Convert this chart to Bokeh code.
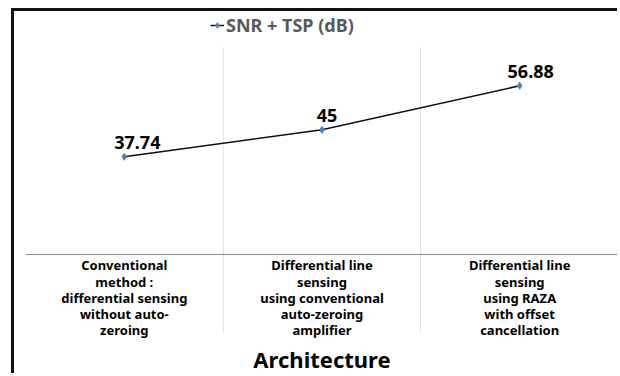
import sys
from bokeh.plotting import figure
from bokeh.models import (ColumnDataSource, Range1d, FixedTicker, Grid, Span,
                          Legend, LegendItem)
from bokeh.core.properties import value
from bokeh.embed import file_html
from bokeh.resources import INLINE

# Architectures compared (category labels, wrapped as in the slide)
categories = [
    "Conventional\nmethod :\ndifferential sensing\nwithout auto-\nzeroing",
    "Differential line\nsensing\nusing conventional\nauto-zeroing\namplifier",
    "Differential line\nsensing\nusing RAZA\nwith offset\ncancellation",
]
# SNR + TSP in dB for each architecture
snr_tsp = [37.74, 45, 56.88]
value_labels = ["37.74", "45", "56.88"]
series_name = "SNR + TSP (dB)"
axis_title = "Architecture"

# horizontal nudge (px) of each value label
label_dx = [13, 5, 11]

FONT = "Noto Sans"
baseline = 11.4          # value where the category axis line sits
plot_top, plot_bottom = 67.2, -9.9   # extent of the category separators

src = ColumnDataSource(dict(cat=categories, v=snr_tsp, lab=value_labels, dx=label_dx))

p = figure(
    x_range=categories, y_range=Range1d(-21.5, 76.9),
    width=606, height=365,
    x_axis_location=None, y_axis_location=None,
    output_backend="svg", toolbar_location=None,
    min_border_left=11, min_border_right=2,
    min_border_top=0, min_border_bottom=0,
    background_fill_color="white", border_fill_color="white",
)
p.outline_line_color = None
p.styles = {
    "margin-left": "11px", "margin-top": "8px",
    "border-left": "3px solid #111111", "border-top": "3px solid #111111",
}
for g in p.grid:
    g.visible = False

# category separators, running down through the label area
sep = Grid(dimension=0, ticker=FixedTicker(ticks=[0, 1, 2, 3]),
           grid_line_color="#e4e4e4", grid_line_width=1)
if "cross_bounds" in Grid.properties():
    sep.cross_bounds = (plot_bottom, plot_top)
else:
    print("Grid has no cross_bounds", file=sys.stderr)
p.add_layout(sep)

# category axis line
p.add_layout(Span(location=baseline, dimension="width",
                  line_color="#8a8a8a", line_width=1))

r_line = p.line("cat", "v", source=src, line_color="#111111", line_width=1.5)
r_pts = p.scatter("cat", "v", source=src, marker="diamond", size=7,
                  fill_color="#4f81bd", line_color="#4f81bd")

# value labels
p.text("cat", "v", text="lab", source=src, x_offset="dx", y_offset=-8,
       text_align="center", text_baseline="bottom",
       text_font=value(FONT), text_font_style="bold", text_font_size="18px",
       text_color="black")

# category labels under the axis line
p.text("cat", baseline, text="cat", source=src, y_offset=2,
       text_align="center", text_baseline="top", text_line_height=0.9,
       text_font=value(FONT), text_font_style="bold", text_font_size="13px",
       text_color="black")

# axis title, centred under the middle category
p.text(x=[categories[1]], y=[baseline], text=[axis_title], y_offset=90,
       text_align="center", text_baseline="top",
       text_font=value(FONT), text_font_style="bold", text_font_size="22px",
       text_color="black")

legend = Legend(
    items=[LegendItem(label=series_name, renderers=[r_line, r_pts])],
    location=(185, 339), orientation="horizontal",
    padding=0, margin=0, spacing=0, label_standoff=2,
    glyph_width=14, glyph_height=16,
    label_text_font=FONT, label_text_font_style="bold",
    label_text_font_size="18px", label_text_color="#595959",
    border_line_color=None, background_fill_alpha=0,
)
p.add_layout(legend)

open("out.html", "w").write(file_html(p, INLINE))
